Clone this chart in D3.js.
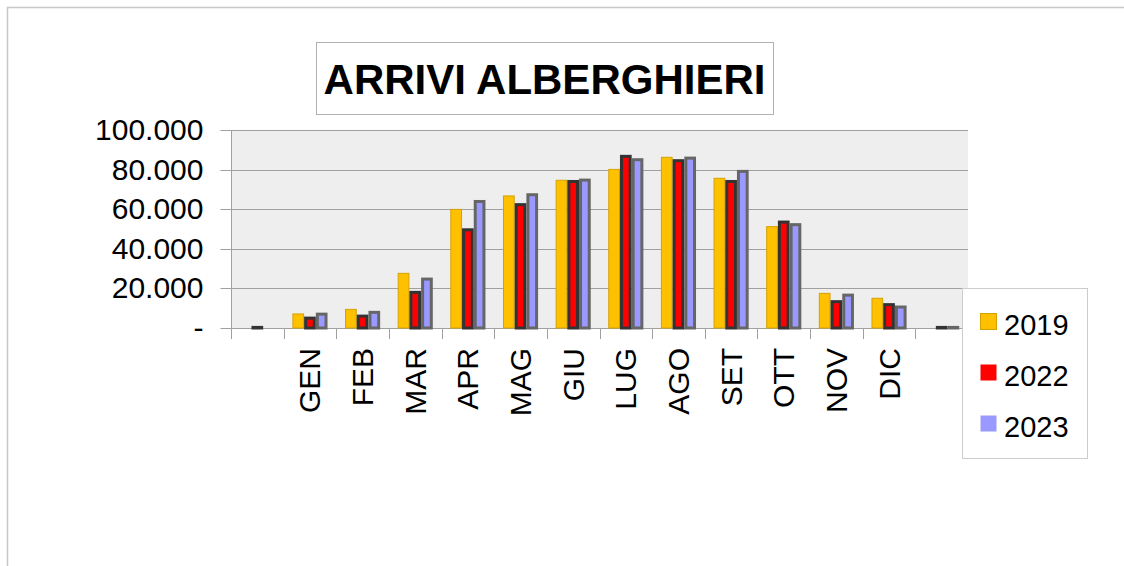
<!DOCTYPE html>
<html>
<head>
<meta charset="utf-8">
<script src="https://cdn.jsdelivr.net/npm/d3@7/dist/d3.min.js"></script>
<style>
  html, body { margin: 0; padding: 0; background: #fff; }
  svg { display: block; font-family: "Liberation Sans", Arial, sans-serif; }
</style>
</head>
<body>
<svg id="chart" width="1124" height="566"></svg>
<script>
// ---- data ----
const categories = ["", "GEN", "FEB", "MAR", "APR", "MAG", "GIU", "LUG", "AGO", "SET", "OTT", "NOV", "DIC", ""];
const seriesNames = ["2019", "2022", "2023"];
const values2019 = [0, 7100, 9400, 27600, 59900, 66700, 74600, 80100, 86200, 75600, 51200, 17500, 15000, 0];
const values2022 = [300, 5000, 6000, 18000, 49600, 62300, 74000, 86700, 84500, 74000, 53500, 13300, 11800, 300];
const values2023 = [0, 7000, 7900, 24700, 63900, 67300, 74700, 85000, 85800, 79100, 52200, 16600, 10600, 300];
const yTicks = [0, 20000, 40000, 60000, 80000, 100000];
const yTickLabels = ["-", "20.000", "40.000", "60.000", "80.000", "100.000"];
const titleText = "ARRIVI ALBERGHIERI";

const seriesValues = [values2019, values2022, values2023];
const fills = ["#FFC000", "#FF0000", "#9999FF"];
const strokes = ["#D4A200", "#333333", "#666666"];
const strokeWidths = [1, 3, 3];

const svg = d3.select("#chart");

// outer frame
svg.append("rect").attr("x", 7.5).attr("y", 7.5).attr("width", 1200).attr("height", 700)
  .attr("fill", "#fff").attr("stroke", "#c8c8c8").attr("stroke-width", 1.5);

const plot = { left: 231, right: 968, top: 130, bottom: 328 };

const x = d3.scaleBand().domain(d3.range(categories.length)).range([plot.left, plot.right]).paddingInner(0).paddingOuter(0);
const groupW = x.bandwidth() * 0.667;
const xs = d3.scaleBand().domain(d3.range(seriesNames.length)).range([0, groupW]).padding(0);
const y = d3.scaleLinear().domain([0, 100000]).range([plot.bottom, plot.top]);

// plot background
svg.append("rect").attr("x", plot.left).attr("y", plot.top)
  .attr("width", plot.right - plot.left).attr("height", plot.bottom - plot.top)
  .attr("fill", "#eeeeee");

// grid lines
svg.append("g").selectAll("line").data(yTicks).join("line")
  .attr("x1", plot.left).attr("x2", plot.right)
  .attr("y1", d => Math.round(y(d)) + 0.5).attr("y2", d => Math.round(y(d)) + 0.5)
  .attr("stroke", "#a0a0a0").attr("stroke-width", 1);

// y axis
const yAxis = d3.axisLeft(y).tickValues(yTicks).tickSize(11).tickPadding(17)
  .tickFormat((d, i) => yTickLabels[i]);
const gy = svg.append("g").attr("transform", `translate(${plot.left + 0.5},0)`).call(yAxis);
gy.select(".domain").remove();
gy.selectAll(".tick line").attr("stroke", "#a0a0a0");
gy.selectAll(".tick text").attr("font-size", 30).attr("fill", "#000")
  .attr("font-family", "'Liberation Sans', Arial, sans-serif");
gy.selectAll(".tick").attr("transform", d => `translate(0,${Math.round(y(d)) + 0.5})`);

// y axis line
svg.append("line").attr("x1", plot.left + 0.5).attr("x2", plot.left + 0.5)
  .attr("y1", plot.top).attr("y2", plot.bottom + 11).attr("stroke", "#a0a0a0");

// x axis ticks at category boundaries
const boundaries = d3.range(1, categories.length + 1).map(i => x(i - 1) + x.bandwidth());
svg.append("g").selectAll("line").data(boundaries).join("line")
  .attr("x1", d => Math.round(d) + 0.5).attr("x2", d => Math.round(d) + 0.5)
  .attr("y1", plot.bottom).attr("y2", plot.bottom + 11)
  .attr("stroke", "#a0a0a0");

// x labels
svg.append("g").selectAll("text").data(categories.map((c, i) => ({ c, i })).filter(d => d.c !== "")).join("text")
  .attr("transform", d => `translate(${x(d.i) + x.bandwidth() / 2},348) rotate(-90)`)
  .attr("text-anchor", "end").attr("dy", "0.35em")
  .attr("font-size", 30).attr("fill", "#000")
  .text(d => d.c);

// bars
seriesValues.forEach((vals, s) => {
  svg.append("g").selectAll("rect").data(vals.map((v, i) => ({ v, i })).filter(d => d.v > 0)).join("rect")
    .attr("x", d => x(d.i) + (x.bandwidth() - groupW) / 2 + xs(s) + strokeWidths[s] / 2)
    .attr("width", xs.bandwidth() - strokeWidths[s])
    .attr("y", d => y(d.v))
    .attr("height", d => y(0) - y(d.v))
    .attr("fill", fills[s]).attr("stroke", strokes[s]).attr("stroke-width", strokeWidths[s]);
});

// title box
svg.append("rect").attr("x", 316.5).attr("y", 42.5).attr("width", 457).attr("height", 72)
  .attr("fill", "#fff").attr("stroke", "#b0b0b0").attr("stroke-width", 1);
svg.append("text").attr("x", 544.5).attr("y", 93.5).attr("text-anchor", "middle")
  .attr("font-size", 42).attr("font-weight", "bold").attr("fill", "#000")
  .text(titleText);

// legend
const lg = svg.append("g");
lg.append("rect").attr("x", 962.5).attr("y", 288.5).attr("width", 125).attr("height", 170)
  .attr("fill", "#fff").attr("stroke", "#cccccc").attr("stroke-width", 1);
const legendRows = seriesNames.map((n, i) => ({ n, i }));
lg.selectAll("rect.sw").data(legendRows).join("rect").attr("class", "sw")
  .attr("x", 980.5).attr("y", d => 313.5 + d.i * 51).attr("width", 16).attr("height", 16)
  .attr("fill", d => fills[d.i]).attr("stroke", d => d.i === 0 ? "#D4A200" : "none");
lg.selectAll("text").data(legendRows).join("text")
  .attr("x", 1004).attr("y", d => 335 + d.i * 51)
  .attr("font-size", 29).attr("fill", "#000")
  .text(d => d.n);
</script>
</body>
</html>
